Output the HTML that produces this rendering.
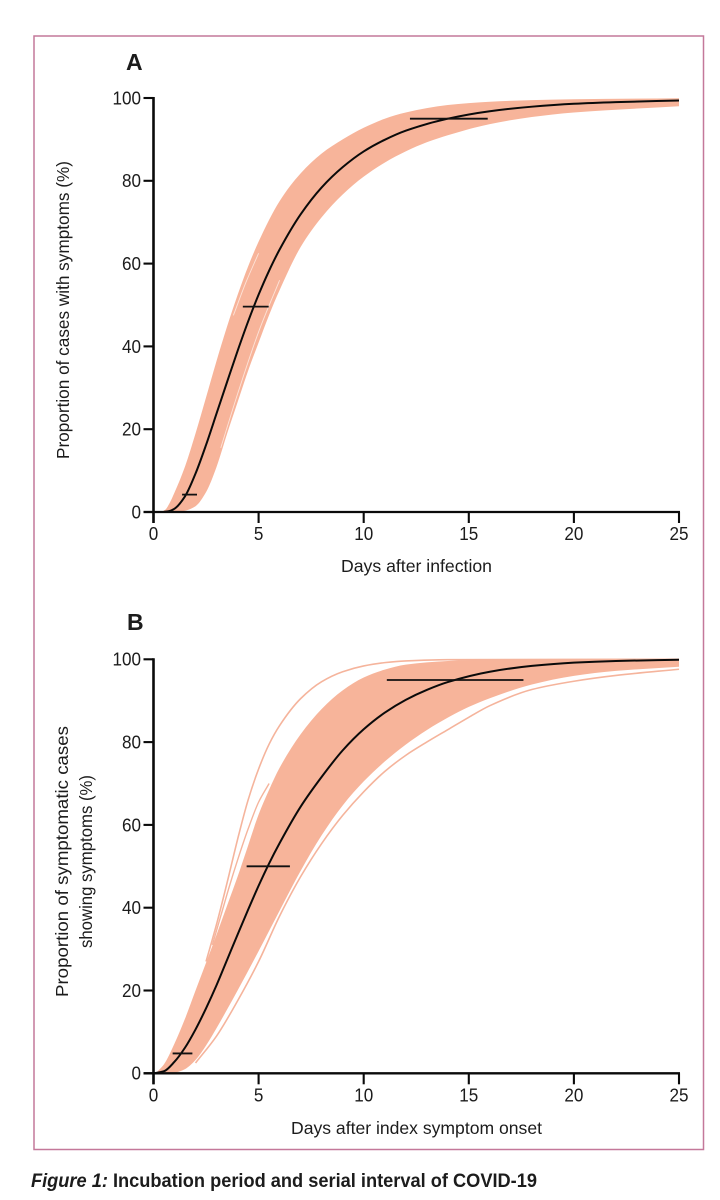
<!DOCTYPE html>
<html lang="en">
<head>
<meta charset="utf-8">
<title>Incubation period and serial interval of COVID-19</title>
<style>
html,body{margin:0;padding:0;background:#fff;width:720px;height:1200px;overflow:hidden}
svg{display:block}
text{font-family:"Liberation Sans",sans-serif;fill:#1c1c1c}
</style>
</head>
<body>
<svg id="fig" xmlns="http://www.w3.org/2000/svg" width="720" height="1200" viewBox="0 0 720 1200">
  <rect x="34" y="36" width="669.5" height="1113.5" fill="none" stroke="#c4789a" stroke-width="1.5"/>
  <text x="126" y="70" font-size="23" font-weight="bold" fill="#111">A</text>
  <text x="127" y="630" font-size="23" font-weight="bold" fill="#111">B</text>
  <text x="341" y="572" font-size="17.5" textLength="151" lengthAdjust="spacingAndGlyphs">Days after infection</text>
  <text x="291" y="1134" font-size="17.5" textLength="251" lengthAdjust="spacingAndGlyphs">Days after index symptom onset</text>
  <text transform="translate(69,459) rotate(-90)" font-size="17.5" textLength="298" lengthAdjust="spacingAndGlyphs">Proportion of cases with symptoms (%)</text>
  <text transform="translate(68,997) rotate(-90)" font-size="17.5" textLength="271" lengthAdjust="spacingAndGlyphs">Proportion of symptomatic cases</text>
  <text transform="translate(92,948) rotate(-90)" font-size="17.5" textLength="173" lengthAdjust="spacingAndGlyphs">showing symptoms (%)</text>
  <text x="31" y="1187" font-size="19.5" font-weight="bold" fill="#151515" textLength="506" lengthAdjust="spacingAndGlyphs"><tspan font-style="italic">Figure 1:</tspan> Incubation period and serial interval of COVID-19</text>
</svg>
<script>
// Shared tick labels
var xTicks = [0, 5, 10, 15, 20, 25];
var yTicks = [0, 20, 40, 60, 80, 100];

// Panel A: incubation period
var aMedianDays = [0.5,0.75,1,1.5,2,2.5,3,3.5,4,4.5,5,5.5,6,7,8,9,10,11,12,14,16,18,20,22,25];
var aMedianPct = [0.03,0.21,0.8,3.8,9.3,16.2,23.8,31.4,38.9,46,52.5,58.3,63.4,71.9,78.4,83.3,87.1,89.9,92.1,95,96.8,97.9,98.6,99,99.4];
var aUpperDays = [0.3,0.55,0.75,1,1.5,2,2.5,3,3.5,4,4.5,5,6,7,8,9,10,11,12,14,16,18,20,25];
var aUpperPct = [0,0.5,2,4.7,11,19,27.7,36.5,44.8,52.4,59.3,65.3,75.1,81.8,86.6,90,92.8,95,96.5,98.3,99.1,99.5,99.7,99.95];
var aLowerDays = [1,1.2,1.5,2,2.5,3,3.5,4,4.5,5,5.5,6,7,8,9,10,11,12,13,14,16,18,20,25];
var aLowerPct = [0,0.05,0.3,1.4,4.8,10.9,18.9,26.5,34.1,40.9,47.6,53.6,64,71.2,76.7,81,84.4,87.1,89.3,91,93.7,95.4,96.5,98];
var aStreakDays = [3.2,4,5,6];
var aStreakPct = [15.5,28.5,43.5,56];
var aStreak2Days = [3.8,4.4,5];
var aStreak2Pct = [47.5,55.5,62.5];
var aBarLow = [1.36,4.25,12.2];
var aBarHigh = [2.07,5.48,15.9];
var aBarPct = [4.2,49.6,95];

// Panel B: serial interval
var bMedianDays = [0,0.5,1,1.5,2,2.5,3,3.5,4,4.5,5,5.5,6,7,8,9,10,11,12,13,14,16,18,20,22,25];
var bMedianPct = [0,0.5,2.8,6.2,10.6,15.7,21.3,27.4,33.5,39.5,45.3,50.7,55.6,64.4,71.6,78,83.1,87.1,90.2,92.6,94.5,97,98.4,99.2,99.6,99.9];
var bUpperDays = [0.1,0.5,1,1.5,2,2.5,3,3.5,4,4.5,5,5.5,6,7,8,9,10,11,12,14,16,25];
var bUpperPct = [0,2.2,7.2,13.2,20,26.7,33.5,40.5,47.5,55,62.5,68.5,73.8,81.9,88,92.5,95.6,97.5,98.7,99.6,99.9,100];
var bLowerDays = [1,1.5,2,2.5,3,3.5,4,5,6,7,8,9,10,11,12,13,14,15,16,18,20,22,25];
var bLowerPct = [0,1,3.2,6.7,10.9,15.4,20,29.5,39.3,48.9,57.5,64.7,70.5,75.3,79.4,82.9,85.9,88.5,90.6,93.9,96,97.2,98.2];
var bOuterHighDays = [2.5,3,3.5,4,4.5,5,5.5,6,7,8,9,10,11,12,14,25];
var bOuterHighPct = [27,36,46,56.5,66,73.5,79.5,84,90.5,94.6,97,98.4,99.2,99.6,99.9,100];
var bInnerHighDays = [2.8,3.2,3.6,4,4.5,5,5.5];
var bInnerHighPct = [31,38,45,51.5,59,65.5,70];
var bOuterLowDays = [2,3,4,5,6,7,8,9,10,11,12,13,14,15,16,18,20,22,25];
var bOuterLowPct = [2.5,9,17.5,27,38,47.5,55.5,62.3,68,72.9,76.8,80,83,86,88.8,92.7,94.7,96.1,97.6];
var bBarLow = [0.91,4.43,11.1];
var bBarHigh = [1.85,6.49,17.6];
var bBarPct = [4.8,50,95];

var NS = 'http://www.w3.org/2000/svg';
var svg = document.getElementById('fig');

function makeX() { return function (d) { return 153.5 + d * 21.02; }; }
function makeY(zero) { return function (p) { return zero - p * 4.14; }; }

// Monotone cubic (Fritsch-Carlson) through the data points, emitted as Beziers.
function curve(days, pcts, sx, sy, start) {
  var n = days.length;
  var xs = days.map(sx), ys = pcts.map(sy);
  var h = [], s = [], m = [];
  for (var i = 0; i < n - 1; i++) {
    h[i] = xs[i + 1] - xs[i];
    s[i] = (ys[i + 1] - ys[i]) / h[i];
  }
  m[0] = s[0];
  m[n - 1] = s[n - 2];
  for (var j = 1; j < n - 1; j++) {
    if (s[j - 1] * s[j] <= 0) { m[j] = 0; continue; }
    var w1 = 2 * h[j] + h[j - 1], w2 = h[j] + 2 * h[j - 1];
    m[j] = (w1 + w2) / (w1 / s[j - 1] + w2 / s[j]);
  }
  var out = start + xs[0].toFixed(2) + ' ' + ys[0].toFixed(2);
  for (var k = 0; k < n - 1; k++) {
    var t = h[k] / 3;
    out += ' C' + (xs[k] + t).toFixed(2) + ' ' + (ys[k] + m[k] * t).toFixed(2) + ' ' +
      (xs[k + 1] - t).toFixed(2) + ' ' + (ys[k + 1] - m[k + 1] * t).toFixed(2) + ' ' +
      xs[k + 1].toFixed(2) + ' ' + ys[k + 1].toFixed(2);
  }
  return out;
}

function pathEl(d, fill, stroke, width) {
  var el = document.createElementNS(NS, 'path');
  el.setAttribute('d', d);
  el.setAttribute('fill', fill);
  el.setAttribute('stroke', stroke);
  el.setAttribute('stroke-width', width);
  svg.appendChild(el);
  return el;
}

function lineEl(x1, y1, x2, y2, width, color) {
  var el = document.createElementNS(NS, 'line');
  el.setAttribute('x1', x1);
  el.setAttribute('y1', y1);
  el.setAttribute('x2', x2);
  el.setAttribute('y2', y2);
  el.setAttribute('stroke', color);
  el.setAttribute('stroke-width', width);
  svg.appendChild(el);
  return el;
}

function textEl(str, x, y, anchor, length) {
  var el = document.createElementNS(NS, 'text');
  el.setAttribute('x', x);
  el.setAttribute('y', y);
  el.setAttribute('font-size', '18.5');
  el.setAttribute('text-anchor', anchor);
  el.setAttribute('textLength', length);
  el.setAttribute('lengthAdjust', 'spacingAndGlyphs');
  el.textContent = str;
  svg.appendChild(el);
  return el;
}

// Closed band: forward along the upper edge, then the lower edge from its last point back.
function band(upD, upP, loD, loP, sx, sy) {
  var up = curve(upD, upP, sx, sy, 'M');
  var lowerForward = curve(loD, loP, sx, sy, 'M');
  var nums = lowerForward.replace(/[MC]/g, ' ').trim().split(/\s+/).map(Number);
  var rev = ' L' + nums[nums.length - 2] + ' ' + nums[nums.length - 1];
  for (var i = nums.length - 4; i >= 0; i -= 6) {
    rev += ' C' + nums[i] + ' ' + nums[i + 1] + ' ' + nums[i - 2] + ' ' + nums[i - 1] + ' ' + nums[i - 4] + ' ' + nums[i - 3];
  }
  return up + rev + ' Z';
}

function drawAxes(prefix, sx, sy) {
  var y0 = sy(0), y100 = sy(100), x25 = sx(25);
  var yAxis = lineEl(sx(0), y100 - 1, sx(0), y0 + 11, 2.6, '#0a0a0a');
  
  
  var xAxis = lineEl(sx(0) - 10, y0, x25 + 1, y0, 2.3, '#0a0a0a');
  
  
  yTicks.forEach(function (t) {
    var tick = lineEl(sx(0) - 10, sy(t), sx(0), sy(t), 2.1, '#0a0a0a');
    
    
    var s = String(t);
    var label = textEl(s, 141, sy(t) + 6.4, 'end', s.length * 9.5);
    
    
  });
  xTicks.forEach(function (t) {
    var tick = lineEl(sx(t), y0, sx(t), y0 + 11, 2.1, '#0a0a0a');
    
    
    var s = String(t);
    var label = textEl(s, sx(t), y0 + 28, 'middle', s.length * 9.5);
    
    
  });
}

function drawBars(prefix, low, high, pct, sx, sy) {
  pct.forEach(function (p, i) {
    var bar = lineEl(sx(low[i]), sy(p), sx(high[i]), sy(p), 1.8, '#111');
    
    
  });
}

var BAND = '#f7b49a';
var sx = makeX();

// Panel A
var syA = makeY(512);
var aBand = pathEl(band(aUpperDays, aUpperPct, aLowerDays, aLowerPct, sx, syA), BAND, 'none', 0);


var aStreak = pathEl(curve(aStreakDays, aStreakPct, sx, syA, 'M'), 'none', '#fde3d8', 0.9);


var aStreak2 = pathEl(curve(aStreak2Days, aStreak2Pct, sx, syA, 'M'), 'none', '#fde3d8', 0.9);


drawAxes('panel-a', sx, syA);
var aMedian = pathEl(curve(aMedianDays, aMedianPct, sx, syA, 'M'), 'none', '#0a0a0a', 2);


drawBars('panel-a', aBarLow, aBarHigh, aBarPct, sx, syA);

// Panel B
var syB = makeY(1073.3);
var bBand = pathEl(band(bUpperDays, bUpperPct, bLowerDays, bLowerPct, sx, syB), BAND, 'none', 0);


var bOuterHigh = pathEl(curve(bOuterHighDays, bOuterHighPct, sx, syB, 'M'), 'none', '#f5b49c', 1.6);


var bInnerHigh = pathEl(curve(bInnerHighDays, bInnerHighPct, sx, syB, 'M'), 'none', '#f5b49c', 1.4);


var bOuterLow = pathEl(curve(bOuterLowDays, bOuterLowPct, sx, syB, 'M'), 'none', '#f5b49c', 1.6);


drawAxes('panel-b', sx, syB);
var bMedian = pathEl(curve(bMedianDays, bMedianPct, sx, syB, 'M'), 'none', '#0a0a0a', 2);


drawBars('panel-b', bBarLow, bBarHigh, bBarPct, sx, syB);
</script>
</body>
</html>
